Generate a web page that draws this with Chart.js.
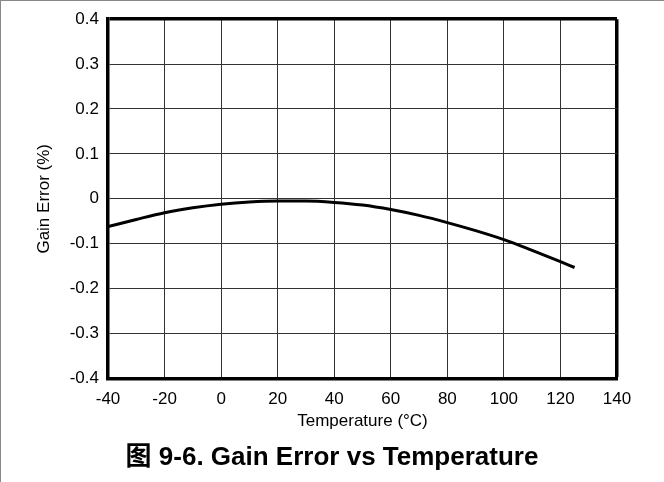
<!DOCTYPE html>
<html>
<head>
<meta charset="utf-8">
<script src="https://cdn.jsdelivr.net/npm/chart.js@4"></script>
<style>
    html, body { margin: 0; padding: 0; background: #fff; }
    .wrap { position: relative; width: 664px; height: 482px; }
    .frame { position: absolute; left: 0; top: 0; width: 663px; height: 481px;
             border-top: 1px solid #888; border-left: 1px solid #888; pointer-events: none; }
    canvas { position: absolute; left: 0; top: 0; }
</style>
</head>
<body>
<div class="wrap">
    <canvas id="chart" width="664" height="482"></canvas>
    <div class="frame"></div>
</div>
<script>
// Data
const temps = [-40, -30, -20, -10, 0, 10, 20, 30, 40, 50, 60, 70, 80, 90, 100, 110, 120, 125];
const gainError = [-0.062, -0.046, -0.031, -0.020, -0.012, -0.007, -0.005, -0.005, -0.008,
                   -0.014, -0.024, -0.037, -0.053, -0.071, -0.091, -0.115, -0.140, -0.153];

// Tick labels
const xTicks = [-40, -20, 0, 20, 40, 60, 80, 100, 120, 140];
const yTicks = [-0.4, -0.3, -0.2, -0.1, 0, 0.1, 0.2, 0.3, 0.4];

const xTitle = 'Temperature (°C)';
const yTitle = 'Gain Error (%)';
const figTitle = '图 9-6. Gain Error vs Temperature';

const FONT = "'Liberation Sans', Arial, 'Noto Sans CJK SC', sans-serif";

document.addEventListener('DOMContentLoaded', function() {
    Chart.defaults.color = '#000';
    Chart.defaults.font.family = FONT;

    const points = temps.map((t, i) => ({ x: t, y: gainError[i] }));

    const ctx = document.getElementById('chart').getContext('2d');
    new Chart(ctx, {
        type: 'line',
        data: {
            datasets: [{
                data: points,
                borderColor: '#000',
                borderWidth: 3,
                pointRadius: 0,
                cubicInterpolationMode: 'monotone',
                fill: false
            }]
        },
        options: {
            responsive: false,
            animation: false,
            layout: { padding: { top: 18, left: 0, right: 0, bottom: 0 } },
            plugins: {
                legend: { display: false },
                tooltip: { enabled: false },
                title: {
                    display: true,
                    position: 'bottom',
                    text: figTitle,
                    font: { size: 26, weight: 'bold', family: FONT },
                    padding: { top: 2, bottom: 9 }
                }
            },
            scales: {
                x: {
                    type: 'linear',
                    min: -40,
                    max: 140,
                    afterBuildTicks: s => { s.ticks = xTicks.map(v => ({ value: v })); },
                    afterFit: s => { s.height = 61.4; },
                    ticks: { font: { size: 17 }, padding: 11, maxRotation: 0, callback: v => String(v) },
                    grid: {
                        color: c => (c.tick && c.tick.value === 140 ? '#000' : '#333'),
                        lineWidth: c => (c.tick && c.tick.value === 140 ? 3.5 : 1),
                        drawTicks: false
                    },
                    border: { display: true, color: '#000', width: 3.5 },
                    title: { display: true, text: xTitle, font: { size: 17 }, padding: { top: 0, bottom: 8 } }
                },
                y: {
                    type: 'linear',
                    min: -0.4,
                    max: 0.4,
                    afterBuildTicks: s => { s.ticks = yTicks.map(v => ({ value: v })); },
                    afterFit: s => { s.width = 108; },
                    ticks: { font: { size: 17 }, padding: 9, callback: v => String(v) },
                    grid: {
                        color: c => (c.tick && c.tick.value === 0.4 ? '#000' : '#333'),
                        lineWidth: c => (c.tick && c.tick.value === 0.4 ? 3.5 : 1),
                        drawTicks: false
                    },
                    border: { display: true, color: '#000', width: 3.5 },
                    title: { display: true, text: yTitle, font: { size: 17 }, padding: { top: 34, bottom: 0 } }
                },
                // empty right-hand box that keeps the plot clear of the right edge
                yRight: {
                    type: 'linear',
                    position: 'right',
                    display: true,
                    afterFit: s => { s.width = 47; },
                    ticks: { display: false },
                    grid: { display: false },
                    border: { display: false }
                }
            }
        }
    });
});
</script>
</body>
</html>
